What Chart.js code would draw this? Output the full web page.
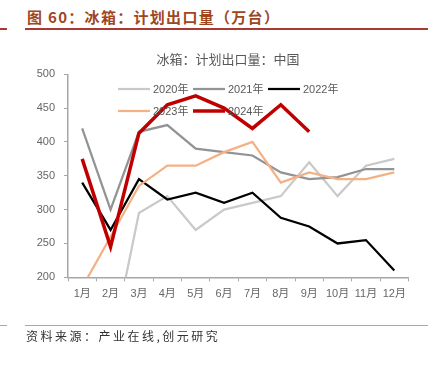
<!DOCTYPE html>
<html>
<head>
<meta charset="utf-8">
<script src="https://cdn.jsdelivr.net/npm/chart.js@4.4.1/dist/chart.umd.min.js"></script>
<style>
html,body{margin:0;padding:0;background:#fff;}
body{width:436px;height:365px;position:relative;overflow:hidden;font-family:'Noto Sans CJK SC',sans-serif;}
#c{position:absolute;left:0;top:0;}
.hdr{position:absolute;left:27px;top:6px;font-size:15px;font-weight:bold;color:#a0461e;letter-spacing:1.3px;line-height:22px;white-space:nowrap;}
.rule{position:absolute;}
.src{position:absolute;left:26px;top:327px;font-size:12px;color:#333;letter-spacing:2.5px;line-height:18px;white-space:nowrap;}
</style>
</head>
<body>
<div class="hdr">图 60：冰箱：计划出口量（万台）</div>
<div class="rule" style="left:0;top:28px;width:7px;height:2px;background:#a93a33"></div>
<div class="rule" style="left:25px;top:28px;width:403px;height:2px;background:#a93a33"></div>
<canvas id="c" width="436" height="365"></canvas>
<div class="rule" style="left:0;top:325px;width:7px;height:1px;background:#c99a9a"></div>
<div class="rule" style="left:25px;top:325px;width:403px;height:1px;background:#c99a9a"></div>
<div class="src">资料来源：产业在线,创元研究</div>
<script>
const months = ['1月','2月','3月','4月','5月','6月','7月','8月','9月','10月','11月','12月'];
const seriesNames = ['2020年','2021年','2022年','2023年','2024年'];
const s2020 = [180, 90, 295, 320, 270, 300, 310, 320, 370, 320, 365, 375];
const s2021 = [420, 300, 415, 425, 390, 385, 380, 355, 345, 348, 360, 360];
const s2022 = [340, 270, 345, 315, 325, 310, 325, 288, 275, 250, 255, 210];
const s2023 = [185, 260, 335, 365, 365, 385, 400, 340, 355, 345, 345, 355];
const s2024 = [375, 245, 413, 455, 468, 450, 420, 455, 415, null, null, null];
const yMin = 200, yMax = 500, yStep = 50;
const chartTitle = '冰箱：计划出口量：中国';

const FONT = "'Liberation Sans','Noto Sans CJK SC',sans-serif";
Chart.defaults.font.family = FONT;

const legendPos = [[118,89],[193,89],[268,89],[118,111],[193,111]];
const customLegend = {
  id: 'customLegend',
  afterDraw(chart){
    const ctx = chart.ctx;
    ctx.save();
    ctx.fillStyle = '#595959';
    ctx.font = '13px ' + FONT;
    ctx.textAlign = 'center';
    ctx.textBaseline = 'middle';
    ctx.fillText(chartTitle, 228, 60);
    ctx.restore();
    chart.data.datasets.forEach((ds,i)=>{
      const [x,y] = legendPos[i];
      ctx.save();
      ctx.strokeStyle = ds.borderColor;
      ctx.lineWidth = ds.borderWidth;
      ctx.beginPath(); ctx.moveTo(x,y); ctx.lineTo(x+32,y); ctx.stroke();
      ctx.fillStyle = '#595959';
      ctx.font = '11px ' + FONT;
      ctx.textBaseline = 'middle';
      ctx.fillText(ds.label, x+35, y+0.5);
      ctx.restore();
    });
  }
};

function ds(label, data, color, width, order){
  return {label, data, borderColor: color, backgroundColor: color, borderWidth: width,
    pointRadius: 0, pointHoverRadius: 0, tension: 0, fill: false, order,
    spanGaps: false, clip: {left: 5, right: 5, top: 5, bottom: 0}};
}

new Chart(document.getElementById('c'), {
  type: 'line',
  data: {
    labels: months,
    datasets: [
      ds(seriesNames[0], s2020, '#c9c9c9', 2.25, 5),
      ds(seriesNames[1], s2021, '#939393', 2.25, 4),
      ds(seriesNames[2], s2022, '#000000', 2.25, 3),
      ds(seriesNames[3], s2023, '#f5b183', 2.25, 2),
      ds(seriesNames[4], s2024, '#c00000', 3.5, 1)
    ]
  },
  options: {
    responsive: false,
    animation: false,
    devicePixelRatio: 1,
    layout: {padding: {left: 30, right: 27.5, top: 74.3, bottom: 57.7}},
    plugins: {
      legend: {display: false},
      tooltip: {enabled: false},
      title: {display: false}
    },
    scales: {
      x: {
        type: 'category', offset: true,
        grid: {display: true, drawOnChartArea: false, drawTicks: true, tickLength: 4, color: '#a6a6a6', offset: true, lineWidth: 1},
        border: {display: true, color: '#a6a6a6', width: 1.5},
        ticks: {color: '#666', font: {size: 11}, padding: 6, maxRotation: 0, autoSkip: false},
        afterFit: s => { s.height = 30; }
      },
      y: {
        min: yMin, max: yMax,
        grid: {display: true, drawOnChartArea: false, drawTicks: true, tickLength: 4, color: '#a6a6a6', lineWidth: 1},
        border: {display: true, color: '#a6a6a6', width: 1.5},
        ticks: {stepSize: yStep, color: '#666', font: {size: 11}, padding: 9},
        afterFit: s => { s.width = 38; }
      }
    }
  },
  plugins: [customLegend]
});
</script>
</body>
</html>
